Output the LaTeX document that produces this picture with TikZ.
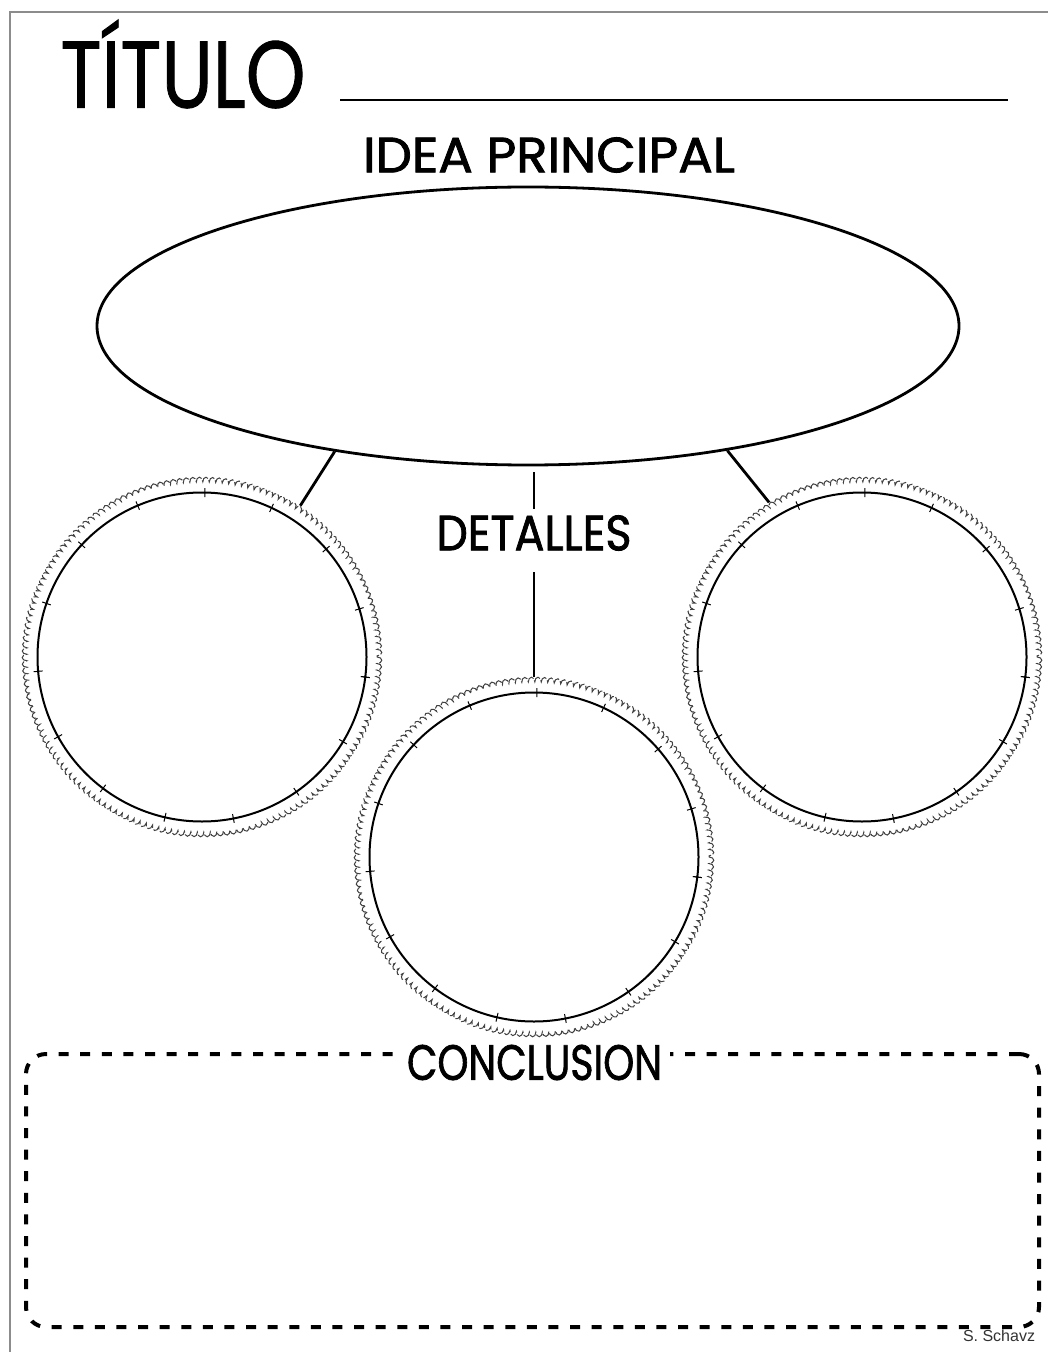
\documentclass[tikz,border=0pt]{standalone}
\usepackage{fontspec}
\usepackage{graphicx}
\setmainfont{Liberation Sans}
\newfontfamily\hand{Poppins}[FakeBold=1.6]
\newfontfamily\titlefont{Poppins}[FakeBold=1]
\usetikzlibrary{shapes.geometric,decorations.pathmorphing,calc}
\begin{document}
\begin{tikzpicture}[x=0.5pt,y=-0.5pt,
  frameline/.style={draw=black!45, line width=1.2pt},
  mainline/.style={line width=1.4pt},
  innercirc/.style={circle, draw, line width=1pt, minimum size=164.5pt, inner sep=0pt},
  ringcirc/.style={circle, minimum size=180pt, inner sep=0pt},
  scallop/.style={draw=black!75, line width=0.5pt, dash pattern=on 5pt off 1pt,
    decorate, decoration={bumps, segment length=6.5pt, amplitude=2.4pt}},
  tickmark/.style={line width=0.5pt},
  heading/.style={font=\hand, inner sep=0pt},
  concbox/.style={draw, line width=2pt, dash pattern=on 5pt off 5.8pt,
    rounded corners=10pt, minimum width=506.5pt, minimum height=136.5pt, inner sep=0pt}
]
\useasboundingbox (0,0) rectangle (1048,1352);
\fill[white] (0,0) rectangle (1048,1352);
% page frame
\draw[frameline] (10,1352) -- (10,12) -- (1048,12);

% title
\node[inner sep=0pt] (tit) at (183,64) {\resizebox{122.5pt}{44pt}{\titlefont TÍTULO}};
\draw[mainline] (340,100) -- (1008,100);

% main idea
\node[heading] (idea) at (549,155) {\resizebox{186pt}{17.5pt}{IDEA PRINCIPAL}};
\node[ellipse, draw, line width=1.4pt, minimum width=431pt, minimum height=139pt, inner sep=0pt] (ell) at (528,326) {};

% detail circles
\node[ringcirc] (lco) at (202,657) {};
\node[innercirc] (lc) at (202,657) {};
\node[ringcirc] (rco) at (862,657) {};
\node[innercirc] (rc) at (862,657) {};
\node[ringcirc] (bco) at (534,857) {};
\node[innercirc] (bc) at (534,857) {};

\foreach \c in {lc,rc,bc}{
  \draw[scallop] (\c.center) circle[radius=175];
  \foreach \a in {7,31,...,367}{
    \draw[tickmark] (\c.center) ++(\a:160) -- ++(\a:9);
  }
}

% detalles label and connectors
\node[heading] (det) at (534,533) {\resizebox{97.5pt}{17.5pt}{DETALLES}};
\coordinate (d1) at (534,472);
\draw[mainline, shorten >=3pt] (d1) -- (det.north);
\draw[mainline, shorten <=10.5pt] (det.south) -- (bco.north);
\draw[mainline] (ell.213.8) -- (lco.57);
\draw[mainline] (ell.328.7) -- (rco.121);

% conclusion
\node[concbox] (cb) at (532.5,1190.5) {};
\node[heading, fill=white, inner xsep=4pt, inner ysep=3pt] (conc) at (534.5,1062.5) {\resizebox{127.5pt}{17.5pt}{CONCLUSION}};

% credit
\node[font=\fontsize{8pt}{9pt}\selectfont, inner sep=0pt, text=black!80] (cred) at (999,1336) {S. Schavz};
\end{tikzpicture}
\end{document}
